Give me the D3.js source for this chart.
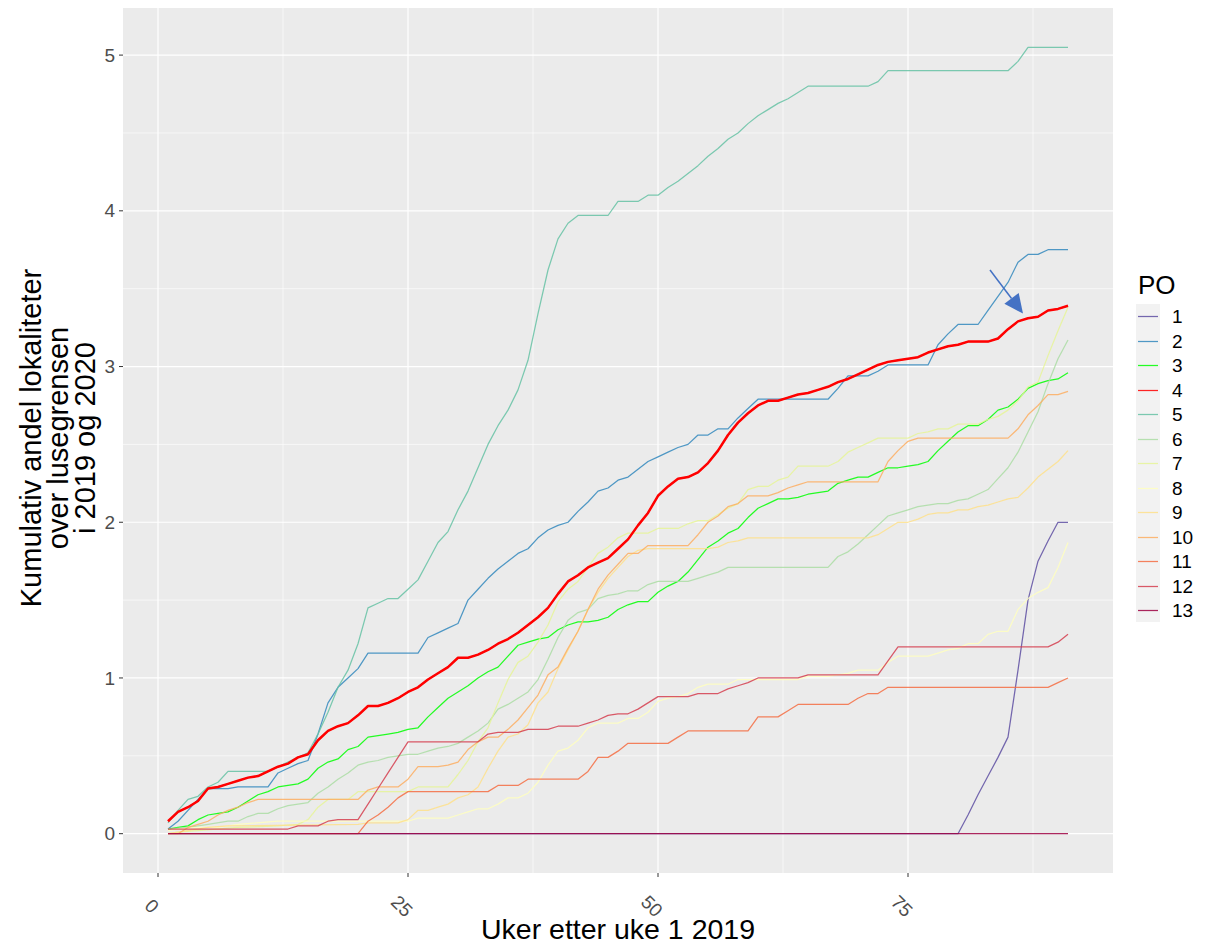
<!DOCTYPE html>
<html>
<head>
<meta charset="utf-8">
<script src="https://cdn.jsdelivr.net/npm/d3@7"></script>
<style>
  body { margin: 0; background: #fff; }
  text { font-family: "Liberation Sans", Arial, Helvetica, sans-serif; }
</style>
</head>
<body>
<div id="chart"></div>
<script>
// PO-områder, [uke, kumulativ andel] lest av figuren
const po1 = [[1,0],[80,0],[81,0.12],[82,0.25],[83,0.37],[84,0.49],[85,0.62],[86,1.05],[87,1.50],[88,1.75],[89,1.88],[90,2.0],[91,2.0]]
const po2 = [[1,0.03],[2,0.08],[3,0.15],[4,0.22],[5,0.29],[7,0.29],[8,0.30],[11,0.30],[12,0.39],[13,0.42],[14,0.45],[15,0.47],[16,0.64],[17,0.84],[18,0.94],[19,1.00],[20,1.06],[21,1.16],[26,1.16],[27,1.26],[28,1.29],[29,1.32],[30,1.35],[31,1.50],[32,1.57],[33,1.64],[34,1.70],[35,1.75],[36,1.80],[37,1.83],[38,1.90],[39,1.95],[40,1.98],[41,2.00],[42,2.07],[43,2.13],[44,2.20],[45,2.22],[46,2.27],[47,2.29],[48,2.34],[49,2.39],[50,2.42],[51,2.45],[52,2.48],[53,2.50],[54,2.56],[55,2.56],[56,2.60],[57,2.60],[58,2.67],[59,2.73],[60,2.79],[67,2.79],[68,2.86],[69,2.94],[71,2.94],[72,2.97],[73,3.01],[77,3.01],[78,3.14],[79,3.21],[80,3.27],[82,3.27],[83,3.36],[84,3.45],[85,3.54],[86,3.67],[87,3.72],[88,3.72],[89,3.75],[91,3.75]]
const po3 = [[1,0.03],[2,0.04],[3,0.05],[4,0.09],[5,0.12],[6,0.13],[7,0.14],[8,0.17],[9,0.21],[10,0.25],[11,0.27],[12,0.30],[13,0.31],[14,0.32],[15,0.35],[16,0.42],[17,0.46],[18,0.48],[19,0.54],[20,0.56],[21,0.62],[22,0.63],[23,0.64],[24,0.65],[25,0.67],[26,0.68],[27,0.75],[28,0.81],[29,0.87],[30,0.91],[31,0.95],[32,1.00],[33,1.04],[34,1.07],[35,1.14],[36,1.21],[37,1.23],[38,1.25],[39,1.26],[40,1.31],[41,1.34],[42,1.36],[43,1.36],[44,1.37],[45,1.39],[46,1.44],[47,1.47],[48,1.49],[49,1.49],[50,1.55],[51,1.59],[52,1.62],[53,1.68],[54,1.76],[55,1.84],[56,1.88],[57,1.93],[58,1.96],[59,2.03],[60,2.09],[61,2.12],[62,2.15],[63,2.15],[64,2.16],[65,2.18],[66,2.19],[67,2.20],[68,2.25],[69,2.27],[70,2.29],[71,2.29],[72,2.32],[73,2.35],[74,2.35],[75,2.36],[76,2.37],[77,2.39],[78,2.46],[79,2.52],[80,2.58],[81,2.62],[82,2.62],[83,2.66],[84,2.72],[85,2.74],[86,2.79],[87,2.86],[88,2.89],[89,2.91],[90,2.92],[91,2.96]]
const po4 = [[1,0.08],[2,0.14],[3,0.17],[4,0.21],[5,0.29],[6,0.30],[7,0.32],[8,0.34],[9,0.36],[10,0.37],[11,0.40],[12,0.43],[13,0.45],[14,0.49],[15,0.51],[16,0.60],[17,0.66],[18,0.69],[19,0.71],[20,0.76],[21,0.82],[22,0.82],[23,0.84],[24,0.87],[25,0.91],[26,0.94],[27,0.99],[28,1.03],[29,1.07],[30,1.13],[31,1.13],[32,1.15],[33,1.18],[34,1.22],[35,1.25],[36,1.29],[37,1.34],[38,1.39],[39,1.45],[40,1.54],[41,1.62],[42,1.66],[43,1.71],[44,1.74],[45,1.77],[46,1.83],[47,1.89],[48,1.98],[49,2.06],[50,2.17],[51,2.23],[52,2.28],[53,2.29],[54,2.32],[55,2.38],[56,2.46],[57,2.56],[58,2.64],[59,2.70],[60,2.75],[61,2.78],[62,2.78],[63,2.80],[64,2.82],[65,2.83],[66,2.85],[67,2.87],[68,2.90],[69,2.92],[70,2.95],[71,2.98],[72,3.01],[73,3.03],[74,3.04],[75,3.05],[76,3.06],[77,3.09],[78,3.11],[79,3.13],[80,3.14],[81,3.16],[82,3.16],[83,3.16],[84,3.18],[85,3.24],[86,3.29],[87,3.31],[88,3.32],[89,3.36],[90,3.37],[91,3.39]]
const po5 = [[1,0.07],[2,0.15],[3,0.22],[4,0.24],[5,0.30],[6,0.33],[7,0.40],[11,0.40],[12,0.43],[13,0.46],[14,0.49],[15,0.52],[16,0.64],[17,0.78],[18,0.94],[19,1.05],[20,1.22],[21,1.45],[22,1.48],[23,1.51],[24,1.51],[25,1.57],[26,1.63],[27,1.75],[28,1.87],[29,1.94],[30,2.08],[31,2.20],[32,2.35],[33,2.50],[34,2.62],[35,2.72],[36,2.85],[37,3.04],[38,3.34],[39,3.62],[40,3.82],[41,3.92],[42,3.97],[45,3.97],[46,4.06],[48,4.06],[49,4.10],[50,4.10],[51,4.15],[52,4.19],[53,4.24],[54,4.29],[55,4.35],[56,4.40],[57,4.46],[58,4.50],[59,4.56],[60,4.61],[61,4.65],[62,4.69],[63,4.72],[64,4.76],[65,4.80],[71,4.80],[72,4.83],[73,4.90],[85,4.90],[86,4.96],[87,5.05],[91,5.05]]
const po6 = [[1,0.03],[3,0.04],[5,0.06],[7,0.08],[8,0.08],[9,0.11],[10,0.13],[11,0.13],[12,0.16],[13,0.18],[14,0.19],[15,0.20],[16,0.26],[17,0.30],[18,0.35],[19,0.39],[20,0.44],[21,0.46],[22,0.47],[23,0.49],[24,0.50],[25,0.51],[26,0.51],[27,0.53],[28,0.55],[29,0.56],[30,0.58],[31,0.62],[32,0.66],[33,0.71],[34,0.80],[35,0.83],[36,0.87],[37,0.91],[38,0.99],[39,1.12],[40,1.26],[41,1.37],[42,1.42],[43,1.44],[44,1.51],[45,1.53],[46,1.54],[47,1.56],[48,1.56],[49,1.60],[50,1.62],[53,1.62],[54,1.64],[55,1.66],[56,1.68],[57,1.71],[67,1.71],[68,1.78],[69,1.81],[70,1.86],[71,1.92],[72,1.98],[73,2.04],[74,2.06],[75,2.08],[76,2.10],[77,2.11],[78,2.12],[79,2.12],[80,2.14],[81,2.15],[82,2.18],[83,2.21],[84,2.28],[85,2.35],[86,2.45],[87,2.58],[88,2.71],[89,2.89],[90,3.05],[91,3.17]]
const po7 = [[1,0.0],[2,0.01],[4,0.02],[8,0.04],[12,0.05],[14,0.06],[15,0.09],[16,0.17],[17,0.22],[19,0.22],[20,0.27],[25,0.27],[26,0.30],[29,0.30],[30,0.38],[31,0.47],[32,0.59],[33,0.68],[34,0.84],[35,0.99],[36,1.10],[37,1.14],[38,1.23],[39,1.34],[40,1.49],[41,1.57],[42,1.62],[43,1.71],[44,1.80],[45,1.84],[46,1.90],[47,1.93],[49,1.93],[50,1.96],[52,1.96],[53,1.99],[54,2.01],[55,2.01],[56,2.05],[57,2.09],[58,2.12],[59,2.21],[60,2.23],[61,2.23],[62,2.27],[63,2.29],[64,2.36],[67,2.36],[68,2.39],[69,2.45],[70,2.48],[71,2.51],[72,2.54],[75,2.54],[76,2.57],[77,2.58],[78,2.60],[79,2.60],[80,2.63],[82,2.63],[83,2.66],[84,2.68],[85,2.72],[86,2.78],[87,2.87],[88,2.90],[89,3.07],[90,3.23],[91,3.38]]
const po8 = [[1,0.02],[2,0.03],[4,0.04],[6,0.04],[8,0.06],[12,0.08],[25,0.08],[26,0.10],[29,0.10],[30,0.12],[31,0.14],[32,0.16],[33,0.16],[34,0.19],[35,0.23],[36,0.23],[37,0.26],[38,0.33],[39,0.44],[40,0.53],[41,0.55],[42,0.60],[43,0.68],[44,0.71],[46,0.71],[47,0.74],[48,0.74],[49,0.78],[50,0.85],[51,0.87],[52,0.88],[53,0.90],[54,0.94],[55,0.96],[57,0.96],[58,0.99],[64,0.99],[65,1.01],[67,1.01],[68,1.02],[69,1.03],[70,1.05],[72,1.05],[73,1.10],[74,1.14],[77,1.14],[78,1.16],[79,1.18],[80,1.19],[81,1.22],[82,1.22],[83,1.28],[84,1.30],[85,1.30],[86,1.44],[87,1.51],[88,1.55],[89,1.58],[90,1.71],[91,1.87]]
const po9 = [[1,0.0],[3,0.02],[5,0.04],[7,0.05],[20,0.06],[21,0.07],[24,0.07],[25,0.09],[26,0.15],[27,0.15],[28,0.17],[29,0.19],[30,0.23],[31,0.25],[32,0.30],[33,0.42],[34,0.53],[35,0.62],[36,0.64],[37,0.70],[38,0.84],[39,0.91],[40,1.06],[41,1.18],[42,1.30],[43,1.44],[44,1.55],[45,1.64],[46,1.71],[47,1.78],[48,1.82],[49,1.83],[55,1.83],[56,1.84],[57,1.87],[58,1.88],[59,1.90],[71,1.90],[72,1.92],[73,1.96],[74,2.00],[75,2.00],[76,2.02],[77,2.05],[78,2.06],[79,2.06],[80,2.08],[81,2.08],[82,2.10],[83,2.11],[84,2.13],[85,2.15],[86,2.16],[87,2.22],[88,2.29],[89,2.34],[90,2.39],[91,2.46]]
const po10 = [[1,0],[2,0],[3,0.04],[4,0.06],[5,0.08],[6,0.12],[7,0.15],[8,0.17],[9,0.20],[10,0.22],[20,0.22],[21,0.28],[22,0.30],[24,0.30],[25,0.35],[26,0.43],[28,0.43],[29,0.44],[30,0.46],[31,0.54],[32,0.59],[33,0.62],[34,0.62],[35,0.67],[36,0.73],[37,0.81],[38,0.89],[39,1.02],[40,1.07],[41,1.19],[42,1.30],[43,1.44],[44,1.57],[45,1.66],[46,1.73],[47,1.80],[48,1.80],[49,1.85],[53,1.85],[54,1.92],[55,2.00],[56,2.04],[57,2.10],[58,2.12],[59,2.17],[61,2.17],[62,2.19],[63,2.22],[64,2.24],[65,2.26],[72,2.26],[73,2.39],[74,2.46],[75,2.52],[76,2.54],[85,2.54],[86,2.60],[87,2.69],[88,2.75],[89,2.82],[90,2.82],[91,2.84]]
const po11 = [[1,0],[20,0],[21,0.08],[22,0.12],[23,0.17],[24,0.23],[25,0.27],[33,0.27],[34,0.31],[36,0.31],[37,0.35],[42,0.35],[43,0.40],[44,0.49],[45,0.49],[46,0.53],[47,0.58],[51,0.58],[52,0.62],[53,0.66],[59,0.66],[60,0.75],[62,0.75],[63,0.79],[64,0.83],[69,0.83],[70,0.87],[71,0.90],[72,0.90],[73,0.94],[89,0.94],[90,0.97],[91,1.00]]
const po12 = [[1,0.03],[13,0.03],[14,0.05],[16,0.05],[17,0.08],[18,0.09],[20,0.09],[21,0.19],[22,0.29],[23,0.39],[24,0.49],[25,0.59],[32,0.59],[33,0.64],[34,0.65],[36,0.65],[37,0.67],[39,0.67],[40,0.69],[42,0.69],[43,0.71],[44,0.73],[45,0.76],[46,0.77],[47,0.77],[48,0.80],[49,0.84],[50,0.88],[53,0.88],[54,0.90],[56,0.90],[57,0.93],[58,0.95],[59,0.97],[60,1.00],[64,1.00],[65,1.02],[72,1.02],[73,1.11],[74,1.20],[89,1.20],[90,1.23],[91,1.28]]
const po13 = [[1,0],[91,0]]

const poNames = ['1','2','3','4','5','6','7','8','9','10','11','12','13']
const poColors = ['#5E4FA2','#3288BD','#00FF00','#FF0000','#66C2A5','#ABDDA4','#E6F598','#FFFFBF','#FEE08B','#FDAE61','#F46D43','#D53E4F','#9E0142']
const poValues = [po1, po2, po3, po4, po5, po6, po7, po8, po9, po10, po11, po12, po13]

const xTicks = [0, 25, 50, 75]
const yTicks = [0, 1, 2, 3, 4, 5]
// pil som peker på PO 4, [uke, verdi]
const arrowFrom = [83.2, 3.62]
const arrowTo = [86.5, 3.34]

const series = poNames.map((name, i) => ({ name: name, color: poColors[i], values: poValues[i] }))

const W = 1209, H = 944
const panel = { left: 123, right: 1113, top: 8, bottom: 873 }

const svg = d3.select('#chart').append('svg')
    .attr('width', W)
    .attr('height', H)

const x = d3.scaleLinear().domain([-3.5, 95.5]).range([panel.left, panel.right])
const y = d3.scaleLinear().domain([-0.2525, 5.3025]).range([panel.bottom, panel.top])

svg.append('rect')
    .attr('x', panel.left)
    .attr('y', panel.top)
    .attr('width', panel.right - panel.left)
    .attr('height', panel.bottom - panel.top)
    .attr('fill', '#EBEBEB')

// minor grid
const grid = svg.append('g')
grid.selectAll('.xminor').data([12.5, 37.5, 62.5, 87.5])
  .enter().append('line')
    .attr('x1', d => x(d)).attr('x2', d => x(d))
    .attr('y1', panel.top).attr('y2', panel.bottom)
    .attr('stroke', '#fff').attr('stroke-width', 0.6)
grid.selectAll('.yminor').data([0.5, 1.5, 2.5, 3.5, 4.5])
  .enter().append('line')
    .attr('y1', d => y(d)).attr('y2', d => y(d))
    .attr('x1', panel.left).attr('x2', panel.right)
    .attr('stroke', '#fff').attr('stroke-width', 0.6)
grid.selectAll('.xmajor').data(xTicks)
  .enter().append('line')
    .attr('x1', d => x(d)).attr('x2', d => x(d))
    .attr('y1', panel.top).attr('y2', panel.bottom)
    .attr('stroke', '#fff').attr('stroke-width', 1.2)
grid.selectAll('.ymajor').data(yTicks)
  .enter().append('line')
    .attr('y1', d => y(d)).attr('y2', d => y(d))
    .attr('x1', panel.left).attr('x2', panel.right)
    .attr('stroke', '#fff').attr('stroke-width', 1.2)

const line = d3.line()
    .x(d => x(d[0]))
    .y(d => y(d[1]))

svg.append('g').selectAll('path').data(series)
  .enter().append('path')
    .attr('d', d => line(d.values))
    .attr('fill', 'none')
    .attr('stroke', d => d.color)
    .attr('stroke-opacity', 0.85)
    .attr('stroke-width', 1.25)
    .attr('stroke-linejoin', 'round')

// PO 4 uthevet
svg.append('path')
    .datum(po4)
    .attr('d', line)
    .attr('fill', 'none')
    .attr('stroke', '#FF0000')
    .attr('stroke-width', 2.5)
    .attr('stroke-linejoin', 'round')

// pil
const ax1 = x(arrowFrom[0]), ay1 = y(arrowFrom[1])
const ax2 = x(arrowTo[0]), ay2 = y(arrowTo[1])
const ang = Math.atan2(ay2 - ay1, ax2 - ax1)
const headLen = 19, headW = 9
const bx = ax2 - headLen * Math.cos(ang), by = ay2 - headLen * Math.sin(ang)
svg.append('line')
    .attr('x1', ax1).attr('y1', ay1)
    .attr('x2', bx).attr('y2', by)
    .attr('stroke', '#4472C4').attr('stroke-width', 1.5)
svg.append('path')
    .attr('d', `M${ax2},${ay2} L${bx + headW * Math.sin(ang)},${by - headW * Math.cos(ang)} L${bx - headW * Math.sin(ang)},${by + headW * Math.cos(ang)} Z`)
    .attr('fill', '#4472C4')

// akser
const yAxis = svg.append('g')
yAxis.selectAll('line').data(yTicks)
  .enter().append('line')
    .attr('x1', panel.left - 4).attr('x2', panel.left)
    .attr('y1', d => y(d)).attr('y2', d => y(d))
    .attr('stroke', '#333').attr('stroke-width', 1)
yAxis.selectAll('text').data(yTicks)
  .enter().append('text')
    .attr('x', panel.left - 8)
    .attr('y', d => y(d))
    .attr('dy', '0.35em')
    .attr('text-anchor', 'end')
    .attr('font-size', 19)
    .attr('fill', '#4D4D4D')
    .text(d => d)

const xAxis = svg.append('g')
xAxis.selectAll('line').data(xTicks)
  .enter().append('line')
    .attr('x1', d => x(d)).attr('x2', d => x(d))
    .attr('y1', panel.bottom).attr('y2', panel.bottom + 4)
    .attr('stroke', '#333').attr('stroke-width', 1)
xAxis.selectAll('text').data(xTicks)
  .enter().append('text')
    .attr('transform', d => `translate(${x(d) - 6}, 906) rotate(45)`)
    .attr('dy', '0.35em')
    .attr('text-anchor', 'middle')
    .attr('font-size', 19)
    .attr('fill', '#4D4D4D')
    .text(d => d)

svg.append('text')
    .attr('x', 618)
    .attr('y', 939)
    .attr('text-anchor', 'middle')
    .attr('font-size', 28.5)
    .text('Uker etter uke 1 2019')

const yTitle = ['Kumulativ andel lokaliteter', 'over lusegrensen', 'i 2019 og 2020']
svg.append('g')
    .attr('transform', `translate(0, 438) rotate(-90)`)
  .selectAll('text').data(yTitle)
  .enter().append('text')
    .attr('x', 0)
    .attr('y', (d, i) => 41 + i * 27)
    .attr('text-anchor', 'middle')
    .attr('font-size', 29)
    .text(d => d)

// legende
const legend = svg.append('g').attr('transform', 'translate(1136, 0)')
legend.append('text')
    .attr('x', 2)
    .attr('y', 294)
    .attr('font-size', 26)
    .text('PO')
legend.append('rect')
    .attr('x', 0).attr('y', 304)
    .attr('width', 24).attr('height', 318)
    .attr('fill', '#F2F2F2')
const legendItem = legend.selectAll('g.item').data(series)
  .enter().append('g')
    .attr('class', 'item')
    .attr('transform', (d, i) => `translate(0, ${Math.round(316 + i * 24.5) + 0.5})`)
legendItem.append('line')
    .attr('x1', 2).attr('x2', 22)
    .attr('stroke', d => d.color)
    .attr('stroke-opacity', 0.85)
    .attr('stroke-width', 1.25)
legendItem.append('text')
    .attr('x', 36)
    .attr('dy', '0.35em')
    .attr('font-size', 19)
    .text(d => d.name)
</script>
</body>
</html>
